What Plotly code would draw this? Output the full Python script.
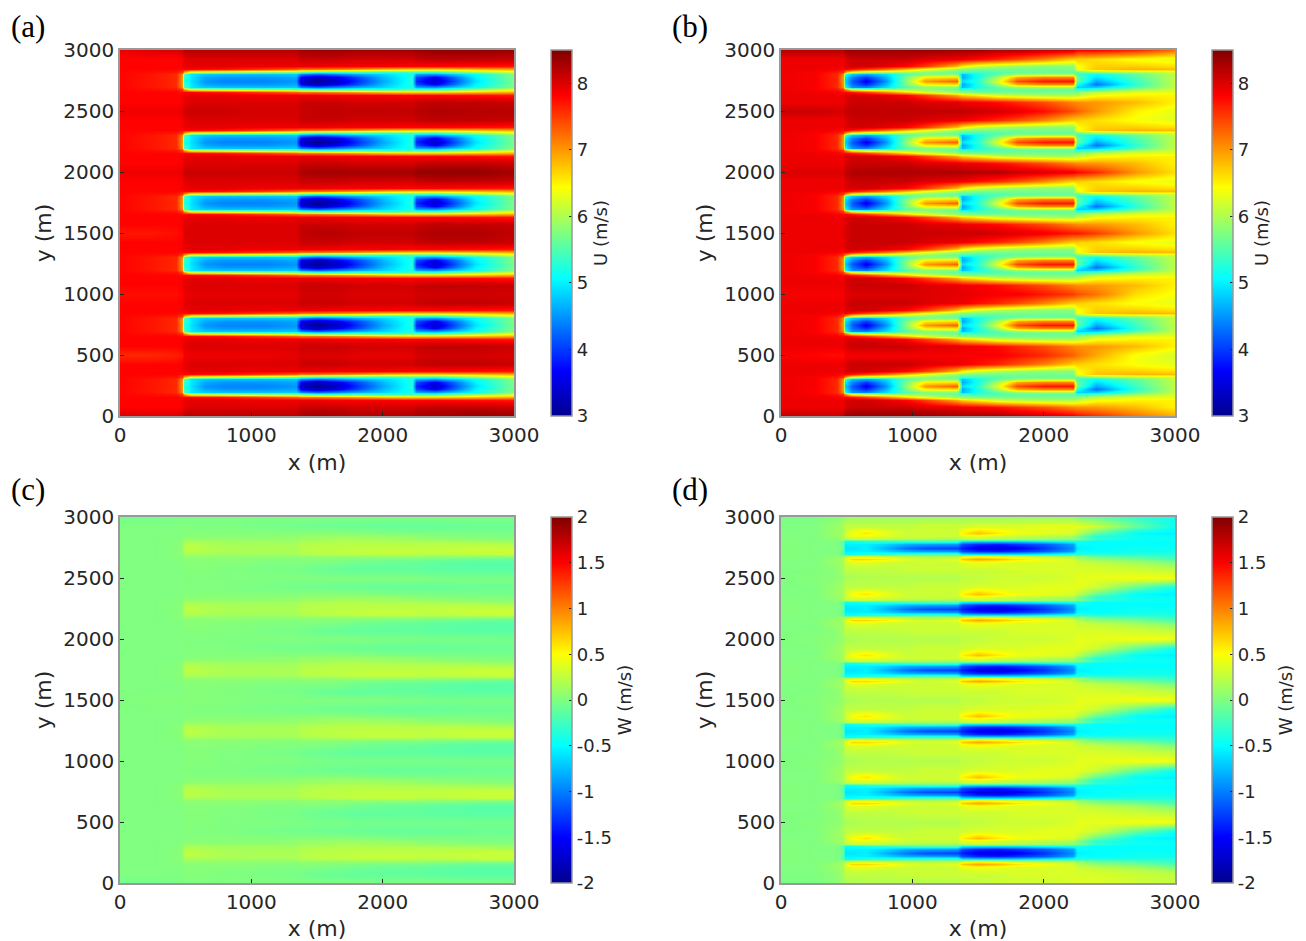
import plotly.graph_objects as go

PAGE_MARGIN = 8
W, H = 1306, 941
FIG_W, FIG_H = W - PAGE_MARGIN, H - PAGE_MARGIN
X_STATIONS = [0, 250, 430, 470, 490, 540, 650, 800, 950, 1100, 1340, 1375, 1500, 1650, 1800, 2000, 2220, 2255, 2400, 2700, 3000]
ROW_CENTRES = [250, 750, 1250, 1750, 2250, 2750]
GAP_CENTRES = [0, 500, 1000, 1500, 2000, 2500, 3000]
WAKE_OFFSETS = [-175, -120, -95, -72, -56, -30, 0, 30, 56, 72, 95, 120, 175]

U_TICKS = [3, 4, 5, 6, 7, 8]
W_TICKS = [-2, -1.5, -1, -0.5, 0, 0.5, 1, 1.5, 2]
W_TICK_TEXT = ["-2", "-1.5", "-1", "-0.5", "0", "0.5", "1", "1.5", "2"]
AXIS_TICKS = [0, 1000, 2000, 3000]
Y_TICKS = [0, 500, 1000, 1500, 2000, 2500, 3000]

A_WAKE = [
 [7.8,7.8,7.8,7.85,7.95,8.0,8.0,8.0,8.0,8.0,8.0,8.1,8.1,8.1,8.05,8.05,8.05,8.1,8.15,8.15,8.1],
 [7.8,7.8,7.8,7.85,7.9,7.95,7.95,7.95,7.9,7.9,7.9,7.9,7.9,7.85,7.85,7.85,7.8,7.8,7.8,7.75,7.7],
 [7.8,7.8,7.8,7.75,7.8,7.8,7.75,7.7,7.6,7.5,7.3,7.2,7.2,7.1,7.0,6.8,6.7,6.7,6.7,6.8,6.9],
 [7.8,7.75,7.7,7.5,6.9,6.2,6.1,6.0,5.9,5.8,5.7,5.5,5.3,5.3,5.4,5.3,5.4,5.4,5.3,5.8,6.2],
 [7.8,7.7,7.6,7.1,5.5,4.95,4.8,4.75,4.75,4.75,4.8,4.4,4.2,4.4,4.6,4.85,5.2,4.6,4.5,5.1,5.75],
 [7.8,7.7,7.6,7.0,5.4,4.95,4.6,4.5,4.5,4.5,4.6,3.6,3.3,3.6,4.05,4.7,5.2,4.1,3.6,5.0,5.75],
 [7.8,7.7,7.6,7.0,5.3,4.9,4.5,4.4,4.4,4.4,4.5,3.3,3.05,3.3,3.9,4.6,5.2,3.9,3.35,4.9,5.7],
 [7.8,7.7,7.6,7.0,5.4,4.95,4.6,4.5,4.5,4.5,4.6,3.6,3.3,3.6,4.05,4.7,5.2,4.1,3.6,5.0,5.75],
 [7.8,7.7,7.6,7.1,5.5,4.95,4.8,4.75,4.75,4.75,4.8,4.4,4.2,4.4,4.6,4.85,5.2,4.6,4.5,5.1,5.75],
 [7.8,7.75,7.7,7.5,6.9,6.2,6.1,6.0,5.9,5.8,5.7,5.5,5.3,5.3,5.4,5.3,5.4,5.4,5.3,5.8,6.2],
 [7.8,7.8,7.8,7.75,7.8,7.8,7.75,7.7,7.6,7.5,7.3,7.2,7.2,7.1,7.0,6.8,6.7,6.7,6.7,6.8,6.9],
 [7.8,7.8,7.8,7.85,7.9,7.95,7.95,7.95,7.9,7.9,7.9,7.9,7.9,7.85,7.85,7.85,7.8,7.8,7.8,7.75,7.7],
 [7.8,7.8,7.8,7.85,7.95,8.0,8.0,8.0,8.0,8.0,8.0,8.1,8.1,8.1,8.05,8.05,8.05,8.1,8.15,8.15,8.1],
]
A_GAPS = [
 [8.05,8.0,8.0,8.05,8.2,8.2,8.2,8.2,8.2,8.2,8.2,8.3,8.35,8.3,8.25,8.25,8.25,8.3,8.3,8.4,8.35],
 [7.6,7.6,7.65,7.7,7.85,7.9,7.9,7.9,7.9,7.9,7.95,8.0,8.0,8.0,7.95,7.95,7.95,8.05,8.05,8.05,8.0],
 [7.75,7.75,7.75,7.8,7.9,7.95,7.95,7.95,7.95,7.95,7.95,8.05,8.05,8.05,8.0,8.0,8.0,8.05,8.05,8.05,8.05],
 [7.7,7.7,7.75,7.8,8.0,8.0,8.0,8.0,8.0,8.0,8.0,8.15,8.2,8.2,8.15,8.15,8.15,8.2,8.25,8.25,8.15],
 [7.9,7.9,7.9,7.95,8.1,8.1,8.1,8.1,8.1,8.1,8.1,8.25,8.3,8.3,8.3,8.3,8.3,8.4,8.4,8.4,8.3],
 [7.9,7.9,7.9,7.95,8.05,8.1,8.1,8.1,8.05,8.05,8.05,8.1,8.15,8.15,8.15,8.15,8.15,8.2,8.25,8.2,8.2],
 [7.9,8.0,8.0,8.05,8.2,8.2,8.2,8.2,8.2,8.2,8.2,8.3,8.35,8.35,8.3,8.3,8.3,8.35,8.4,8.4,8.35],
]

B_WAKE = [
 [7.9,7.9,7.9,7.9,8.0,8.1,8.1,8.1,8.1,8.0,7.95,7.9,7.85,7.75,7.6,7.4,7.1,7.05,7.0,6.8,6.5],
 [7.9,7.9,7.9,7.9,8.0,8.05,8.05,7.95,7.8,7.5,6.9,6.7,6.5,6.2,6.1,6.0,6.0,6.1,6.4,6.5,6.5],
 [7.9,7.9,7.85,7.75,7.85,7.7,7.5,7.1,6.7,6.3,5.9,5.8,5.7,5.7,5.7,5.7,5.7,5.8,6.1,6.3,6.3],
 [7.9,7.85,7.7,7.5,7.0,6.3,6.0,5.95,5.9,5.8,5.6,5.4,5.4,5.5,5.6,5.6,5.6,5.3,5.4,5.9,6.2],
 [7.9,7.85,7.6,7.1,5.1,4.5,4.4,4.9,5.5,5.8,5.8,4.7,5.2,5.6,5.9,6.0,6.0,4.8,4.8,5.5,6.1],
 [7.9,7.85,7.6,7.0,4.9,4.3,3.9,4.7,5.7,6.5,6.6,4.6,5.2,6.0,6.9,7.1,7.1,5.2,4.3,5.3,6.1],
 [7.9,7.85,7.6,7.0,4.8,4.2,3.6,4.5,5.8,7.0,7.3,4.9,5.3,6.3,7.4,7.7,7.7,5.6,4.6,5.4,6.1],
 [7.9,7.85,7.6,7.0,4.95,4.4,4.0,4.7,5.7,6.5,6.6,4.6,5.2,6.0,6.9,7.1,7.1,5.6,4.9,5.5,6.1],
 [7.9,7.85,7.6,7.1,5.2,4.8,4.6,4.9,5.5,5.8,5.8,4.7,5.2,5.6,5.9,6.0,6.0,5.4,5.1,5.6,6.1],
 [7.9,7.85,7.7,7.5,7.0,6.3,6.0,5.95,5.9,5.8,5.6,5.4,5.4,5.5,5.6,5.6,5.6,5.6,5.8,6.0,6.2],
 [7.9,7.9,7.85,7.75,7.85,7.7,7.5,7.2,6.8,6.4,5.9,5.8,5.7,5.7,5.7,5.7,5.7,6.4,6.75,6.85,6.8],
 [7.9,7.9,7.9,7.9,8.0,8.05,8.05,7.95,7.8,7.5,6.8,6.5,6.2,6.0,5.9,5.8,5.8,6.4,6.7,6.7,6.6],
 [7.9,7.9,7.9,7.9,8.0,8.1,8.1,8.1,8.1,8.0,7.9,7.9,7.75,7.6,7.4,7.1,6.7,6.7,6.6,6.4,6.3],
]
B_GAPS = [
 [8.2,8.1,8.1,8.2,8.4,8.4,8.4,8.4,8.4,8.4,8.3,8.3,8.3,8.3,8.2,8.1,7.9,7.8,7.6,7.2,6.9],
 [7.85,7.8,7.75,7.75,7.85,7.85,7.85,7.85,7.85,7.85,7.85,7.85,7.85,7.85,7.75,7.6,7.3,7.2,6.9,6.4,6.2],
 [7.85,7.85,7.85,7.85,7.95,8.0,8.0,8.0,8.0,8.0,7.95,7.95,7.9,7.85,7.85,7.7,7.5,7.4,7.2,6.6,6.4],
 [7.9,7.9,7.9,7.95,8.05,8.1,8.1,8.1,8.1,8.1,8.1,8.1,8.1,8.05,8.0,7.9,7.7,7.7,7.5,7.0,6.6],
 [8.0,8.0,8.0,8.0,8.15,8.25,8.25,8.25,8.25,8.25,8.25,8.25,8.2,8.2,8.1,8.0,7.9,7.8,7.6,7.0,6.6],
 [8.1,8.1,8.05,8.05,8.15,8.15,8.15,8.15,8.15,8.15,8.15,8.15,8.1,8.05,7.95,7.75,7.4,7.3,7.0,6.5,6.3],
 [8.2,8.2,8.2,8.2,8.35,8.35,8.35,8.35,8.35,8.35,8.3,8.3,8.3,8.2,8.2,8.1,8.0,7.8,7.8,7.6,7.2],
]

C_WAKE = [
 [.0,.0,.0,.0,.02,.02,.02,.0,.0,-.02,-.03,-.05,-.08,-.1,-.12,-.12,-.12,-.12,-.14,-.15,-.15],
 [.0,.0,.0,.0,.03,.03,.03,.02,.02,.0,.0,.0,.0,-.02,-.05,-.08,-.1,-.1,-.12,-.15,-.15],
 [.0,.0,.0,.02,.04,.04,.04,.04,.04,.03,.02,.03,.03,.02,.0,-.02,-.03,-.03,-.05,-.08,-.1],
 [.0,.0,.02,.03,.07,.07,.07,.07,.06,.06,.06,.08,.08,.08,.09,.09,.09,.09,.08,.07,.07],
 [.0,.0,.02,.04,.16,.16,.15,.14,.14,.14,.14,.18,.2,.22,.24,.25,.25,.22,.22,.25,.27],
 [.0,.0,.02,.05,.2,.22,.19,.17,.16,.16,.16,.21,.23,.24,.26,.27,.27,.25,.25,.28,.29],
 [.0,.0,.02,.05,.22,.24,.2,.17,.16,.17,.17,.21,.23,.23,.24,.25,.25,.24,.25,.28,.28],
 [.0,.0,.02,.05,.2,.21,.18,.16,.15,.15,.15,.2,.21,.22,.23,.22,.22,.22,.22,.22,.2],
 [.0,.0,.02,.04,.16,.16,.15,.13,.13,.13,.13,.17,.18,.2,.2,.18,.18,.18,.16,.13,.1],
 [.0,.0,.0,.02,.07,.07,.07,.07,.07,.07,.07,.1,.1,.13,.13,.12,.1,.08,.07,.05,.04],
 [.0,.0,.0,.02,.03,.04,.04,.04,.04,.05,.07,.09,.1,.11,.11,.1,.08,.07,.04,.02,.0],
 [.0,.0,.0,.0,.02,.02,.02,.02,.02,.02,.02,.02,.03,.03,.02,.0,-.02,-.02,-.02,-.03,-.03],
 [.0,.0,.0,.0,.02,.0,.0,.0,-.02,-.03,-.05,-.05,-.06,-.08,-.08,-.1,-.1,-.1,-.1,-.08,-.08],
]
C_GAPS = [
 [-.05,-.05,-.02,-.02,.0,.0,.0,.0,.0,.0,.0,.0,.0,.0,.0,.0,.0,.0,.0,.0,-.02],
 [.0,.0,.0,.0,.02,.02,.02,.0,.0,.0,-.02,-.02,-.03,-.03,-.05,-.05,-.05,-.05,-.05,-.05,-.05],
 [.0,.0,.0,.0,.02,.02,.02,.0,.0,.0,.0,-.02,-.02,-.03,-.03,-.03,-.03,-.03,-.03,-.03,-.03],
 [.0,.02,.02,.02,.02,.02,.02,.02,.0,.0,.0,.0,.0,.0,.0,.0,-.02,-.02,-.03,-.03,-.03],
 [.0,.0,.0,.0,.0,.0,.0,.0,.0,.0,.0,.0,.0,.0,.0,-.02,-.02,-.03,-.03,-.03,-.05],
 [.0,.0,.0,.0,.0,.0,.0,.0,.0,.0,.0,.0,.0,.0,.0,.0,.0,.0,-.02,-.02,-.02],
 [-.05,-.05,-.02,-.02,-.02,-.02,-.02,-.02,-.02,-.02,-.02,-.02,-.02,-.02,-.02,-.02,-.02,-.02,-.02,-.02,-.02],
]

D_WAKE = [
 [.0,.0,.05,.15,.25,.25,.25,.25,.28,.3,.3,.3,.3,.3,.35,.35,.35,.35,.35,.3,.25],
 [.0,.0,.1,.15,.3,.38,.38,.32,.3,.3,.3,.4,.45,.42,.36,.35,.35,.3,.25,.15,.0],
 [.0,.0,.1,.15,.4,.65,.65,.55,.38,.32,.38,.7,.85,.75,.6,.48,.32,.2,.05,-.05,-.2],
 [.02,.0,.05,.1,.2,.3,.3,.25,.2,.15,.15,.35,.45,.38,.28,.2,.15,.05,-.1,-.2,-.3],
 [.02,.0,.0,-.1,-.45,-.45,-.35,-.3,-.25,-.2,-.2,-.55,-.6,-.6,-.6,-.5,-.4,-.3,-.35,-.35,-.35],
 [.02,.0,.0,-.1,-.55,-.55,-.55,-.65,-.8,-.85,-.9,-1.2,-1.35,-1.4,-1.3,-1.15,-.85,-.5,-.5,-.45,-.45],
 [.02,.0,.0,-.1,-.6,-.6,-.55,-.8,-1.05,-1.2,-1.25,-1.4,-1.6,-1.65,-1.55,-1.3,-.95,-.55,-.5,-.45,-.45],
 [.02,.0,.0,-.1,-.55,-.55,-.55,-.65,-.8,-.85,-.9,-1.2,-1.35,-1.4,-1.3,-1.15,-.85,-.5,-.5,-.5,-.5],
 [.02,.0,.0,-.1,-.45,-.45,-.35,-.3,-.25,-.2,-.2,-.55,-.6,-.6,-.6,-.5,-.4,-.4,-.5,-.5,-.5],
 [.02,.0,.05,.1,.2,.25,.25,.2,.15,.12,.1,.2,.25,.2,.15,.1,.05,.0,-.3,-.45,-.45],
 [.0,.0,.1,.15,.3,.4,.4,.35,.3,.3,.3,.38,.42,.32,.28,.22,.15,.0,-.35,-.45,-.5],
 [.0,.0,.1,.15,.3,.48,.6,.42,.3,.3,.3,.55,.75,.58,.45,.4,.35,.25,-.1,-.5,-.55],
 [.0,.0,.1,.15,.25,.25,.25,.25,.25,.3,.3,.3,.35,.35,.35,.4,.4,.4,.3,-.1,-.45],
]
D_GAPS = [
 [-.03,-.02,.05,.1,.15,.17,.2,.2,.2,.2,.2,.25,.25,.3,.3,.3,.35,.35,.35,.3,.25],
 [.0,.02,.05,.1,.15,.17,.2,.2,.2,.2,.2,.25,.25,.3,.3,.3,.35,.4,.4,.45,.45],
 [.0,.02,.05,.1,.15,.17,.2,.2,.2,.2,.2,.25,.25,.3,.3,.3,.35,.4,.4,.45,.45],
 [.0,.02,.05,.1,.15,.17,.2,.2,.2,.2,.2,.25,.25,.3,.3,.3,.35,.4,.4,.45,.45],
 [.0,.02,.05,.1,.15,.17,.2,.2,.2,.2,.2,.25,.25,.3,.3,.3,.35,.4,.4,.45,.45],
 [.0,.02,.05,.1,.15,.17,.2,.2,.2,.2,.2,.25,.25,.3,.3,.3,.35,.4,.4,.45,.45],
 [-.03,-.02,.03,.05,.1,.12,.12,.12,.12,.12,.12,.12,.12,.12,.1,.1,.1,.0,-.1,-.3,-.45],
]

JET = [[0, "rgb(0,0,143)"], [0.125, "rgb(0,0,255)"], [0.375, "rgb(0,255,255)"],
       [0.625, "rgb(255,255,0)"], [0.875, "rgb(255,0,0)"], [1, "rgb(128,0,0)"]]
INK = "#262626"
FRAME = "#999999"
SANS = "DejaVu Sans"


def assemble(wake, gaps):
    ys, zs = [], []
    for k, gap_y in enumerate(GAP_CENTRES):
        ys.append(gap_y)
        zs.append(gaps[k])
        if k < len(ROW_CENTRES):
            for off, row in zip(WAKE_OFFSETS, wake):
                ys.append(ROW_CENTRES[k] + off)
                zs.append(row)
    return ys, zs


def fx(page_x):
    return (page_x - PAGE_MARGIN) / FIG_W


def fy(page_y):
    return 1 - (page_y - PAGE_MARGIN) / FIG_H


PANELS = [
    ("(a)", A_WAKE, A_GAPS, 120, 50, 3, 8.5, U_TICKS, [str(t) for t in U_TICKS], "U (m/s)"),
    ("(b)", B_WAKE, B_GAPS, 781, 50, 3, 8.5, U_TICKS, [str(t) for t in U_TICKS], "U (m/s)"),
    ("(c)", C_WAKE, C_GAPS, 120, 517, -2, 2, W_TICKS, W_TICK_TEXT, "W (m/s)"),
    ("(d)", D_WAKE, D_GAPS, 781, 517, -2, 2, W_TICKS, W_TICK_TEXT, "W (m/s)"),
]
PW, PH = 394, 366

fig = go.Figure()
layout = dict(width=FIG_W, height=FIG_H, margin=dict(l=0, r=0, t=0, b=0, pad=0, autoexpand=False),
              paper_bgcolor="white", plot_bgcolor="white", showlegend=False, annotations=[])

for i, (tag, wake, gaps, left, top, zmin, zmax, ticks, ticktext, cbtitle) in enumerate(PANELS):
    n = "" if i == 0 else str(i + 1)
    ys, zs = assemble(wake, gaps)
    fig.add_trace(go.Heatmap(
        x=X_STATIONS, y=ys, z=zs, zmin=zmin, zmax=zmax, zsmooth="best", colorscale=JET,
        xaxis="x" + n, yaxis="y" + n,
        colorbar=dict(
            x=fx(left + 431), xanchor="left", y=fy(top + PH), yanchor="bottom",
            len=PH / FIG_H, lenmode="fraction", thickness=21, thicknessmode="pixels",
            outlinecolor=FRAME, outlinewidth=1.5, ticks="inside", ticklen=3, tickcolor=INK,
            tickvals=ticks, ticktext=ticktext, tickfont=dict(family=SANS, size=18, color=INK),
            title=dict(text=cbtitle, side="right", font=dict(family=SANS, size=18, color=INK)),
            xpad=0, ypad=0,
        ),
    ))
    axis = dict(range=[0, 3000], showgrid=False, zeroline=False, showline=True, linecolor=FRAME,
                linewidth=1.5, mirror=True, ticks="inside", ticklen=4, tickcolor=INK,
                tickfont=dict(family=SANS, size=20, color=INK))
    layout["xaxis" + n] = dict(axis, domain=[fx(left), fx(left + PW)], anchor="y" + n, tickvals=AXIS_TICKS,
                               title=dict(text="x (m)", font=dict(family=SANS, size=22, color=INK), standoff=9))
    layout["yaxis" + n] = dict(axis, domain=[fy(top + PH), fy(top)], anchor="x" + n, tickvals=Y_TICKS,
                               title=dict(text="y (m)", font=dict(family=SANS, size=22, color=INK), standoff=6))
    tag_page_top = max(PAGE_MARGIN, top - 46)
    layout["annotations"].append(dict(
        text=tag, xref="paper", yref="paper", x=fx(left - 110), y=fy(tag_page_top),
        xanchor="left", yanchor="top", showarrow=False, borderpad=0,
        font=dict(family="Liberation Serif", size=31, color="black")))

fig.update_layout(**layout)
fig.write_html("out.html")
